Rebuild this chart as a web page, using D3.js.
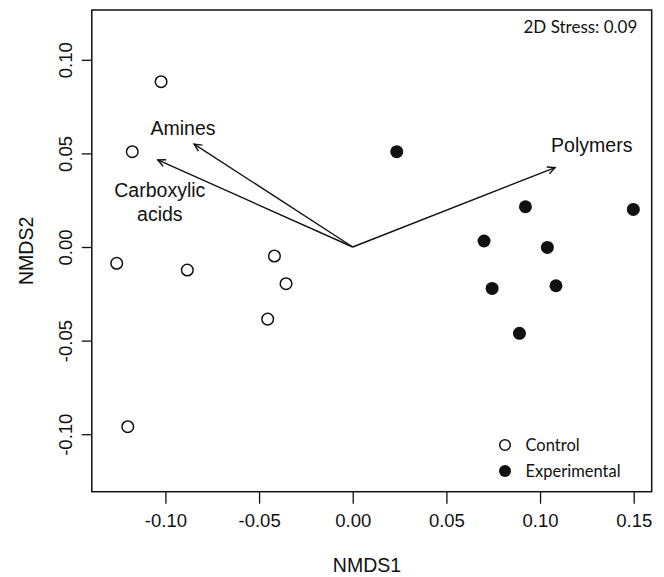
<!DOCTYPE html>
<html>
<head>
<meta charset="utf-8">
<script src="https://cdn.jsdelivr.net/npm/d3@7"></script>
<style>
  body { margin: 0; background: #fff; }
  svg { display: block; }
</style>
</head>
<body>
<div id="chart"></div>
<script>
// NMDS scores
var controlX = [-0.1023, -0.1177, -0.1260, -0.0883, -0.0418, -0.0356, -0.0454, -0.1201];
var controlY = [0.0883, 0.0509, -0.0087, -0.0123, -0.0048, -0.0196, -0.0385, -0.0960];

var expX = [0.0235, 0.0922, 0.1498, 0.0701, 0.1039, 0.0744, 0.1085, 0.0890];
var expY = [0.0509, 0.0215, 0.0201, 0.0032, -0.0002, -0.0221, -0.0207, -0.0461];

// fitted vectors
var vecNames = ["Polymers", "Amines", "Carboxylic acids"];
var vecX = [0.1080, -0.0847, -0.1041];
var vecY = [0.0424, 0.0550, 0.0465];
// where the vector names sit (data units)
var labelX = [0.1276, -0.0906, -0.1030];
var labelY = [0.0506, 0.0598, 0.0267];

var xTicks = [-0.10, -0.05, 0.00, 0.05, 0.10, 0.15];
var yTicks = [-0.10, -0.05, 0.00, 0.05, 0.10];

var stressText = "2D Stress: 0.09";
var legendNames = ["Control", "Experimental"];

var width = 664, height = 577;
var plotL = 91.8, plotR = 651.7, plotT = 10, plotB = 491.7;

var x = d3.scaleLinear().domain([-0.1393, 0.1596]).range([plotL, plotR]);
var y = d3.scaleLinear().domain([-0.1307, 0.1266]).range([plotB, plotT]);

// R style labels: plain hyphen for minus
var fmt = function(d) { return d3.format(".2f")(d).replace("\u2212", "-"); };

var svg = d3.select("#chart").append("svg")
    .attr("width", width)
    .attr("height", height);

var defs = svg.append("defs");
defs.append("marker")
    .attr("id", "head")
    .attr("markerUnits", "userSpaceOnUse")
    .attr("viewBox", "-10 -6 12 12")
    .attr("refX", 0).attr("refY", 0)
    .attr("markerWidth", 12).attr("markerHeight", 12)
    .attr("orient", "auto")
    .append("path")
    .attr("d", "M-7.5,-3.6 L0,0 L-7.5,3.6")
    .attr("fill", "none")
    .attr("stroke", "#111")
    .attr("stroke-width", 1.4);

var axisFont = "'Liberation Sans', Arial, sans-serif";
var noteFont = "Lato, 'Open Sans', sans-serif";

// x axis
var gx = svg.append("g")
    .attr("transform", "translate(0," + plotB + ")")
    .call(d3.axisBottom(x).tickValues(xTicks).tickSize(12).tickPadding(10.5)
        .tickFormat(fmt));
gx.select(".domain").remove();
gx.selectAll(".tick line").attr("stroke", "#111").attr("stroke-width", 1.3);
gx.selectAll(".tick text")
    .attr("fill", "#111")
    .style("font-family", axisFont)
    .style("font-size", "18.5px");

// y axis, labels turned like base R
var gy = svg.append("g")
    .attr("transform", "translate(" + plotL + ",0)")
    .call(d3.axisLeft(y).tickValues(yTicks).tickSize(10)
        .tickFormat(fmt));
gy.select(".domain").remove();
gy.selectAll(".tick line").attr("stroke", "#111").attr("stroke-width", 1.3);
gy.selectAll(".tick text")
    .attr("x", null).attr("dy", null)
    .attr("text-anchor", "middle")
    .attr("transform", "translate(-19.8,0) rotate(-90)")
    .attr("fill", "#111")
    .style("font-family", axisFont)
    .style("font-size", "18.5px");

// frame
svg.append("rect")
    .attr("x", plotL).attr("y", plotT)
    .attr("width", plotR - plotL).attr("height", plotB - plotT)
    .attr("fill", "none")
    .attr("stroke", "#111")
    .attr("stroke-width", 1.5);

// axis titles
svg.append("text")
    .attr("x", 367).attr("y", 571.7)
    .attr("text-anchor", "middle")
    .style("font-family", axisFont).style("font-size", "19.5px")
    .attr("fill", "#111")
    .text("NMDS1");

svg.append("text")
    .attr("transform", "translate(33," + ((plotT + plotB) / 2) + ") rotate(-90)")
    .attr("text-anchor", "middle")
    .style("font-family", axisFont).style("font-size", "19.5px")
    .attr("fill", "#111")
    .text("NMDS2");

// vectors
var vecs = svg.append("g");
vecNames.forEach(function(name, i) {
    vecs.append("line")
        .attr("x1", x(0)).attr("y1", y(0))
        .attr("x2", x(vecX[i])).attr("y2", y(vecY[i]))
        .attr("stroke", "#111")
        .attr("stroke-width", 1.4)
        .attr("marker-end", "url(#head)");

    var words = name === "Carboxylic acids" ? ["Carboxylic", "acids"] : [name];
    var t = vecs.append("text")
        .attr("text-anchor", "middle")
        .style("font-family", axisFont).style("font-size", "19.5px")
        .attr("fill", "#111");
    words.forEach(function(w, j) {
        t.append("tspan")
            .attr("x", x(labelX[i]))
            .attr("y", y(labelY[i]) + j * 23.5)
            .text(w);
    });
});

// points
var pts = svg.append("g");
pts.selectAll("circle.control")
    .data(controlX)
    .enter().append("circle")
    .attr("class", "control")
    .attr("cx", function(d) { return x(d); })
    .attr("cy", function(d, i) { return y(controlY[i]); })
    .attr("r", 5.8)
    .attr("fill", "#fff")
    .attr("stroke", "#111")
    .attr("stroke-width", 1.5);

pts.selectAll("circle.exp")
    .data(expX)
    .enter().append("circle")
    .attr("class", "exp")
    .attr("cx", function(d) { return x(d); })
    .attr("cy", function(d, i) { return y(expY[i]); })
    .attr("r", 6.5)
    .attr("fill", "#111");

// stress note
svg.append("text")
    .attr("x", 637.3).attr("y", 33.3)
    .attr("text-anchor", "end")
    .style("font-family", noteFont).style("font-size", "17px")
    .attr("fill", "#111")
    .text(stressText);

// legend
var leg = svg.append("g");
legendNames.forEach(function(name, i) {
    var cy = 445 + i * 26;
    leg.append("circle")
        .attr("cx", 505).attr("cy", cy)
        .attr("r", i === 0 ? 5.3 : 6)
        .attr("fill", i === 0 ? "#fff" : "#111")
        .attr("stroke", "#111")
        .attr("stroke-width", i === 0 ? 1.5 : 0);
    leg.append("text")
        .attr("x", 525.5).attr("y", cy + 6)
        .style("font-family", noteFont).style("font-size", "16.5px")
        .attr("fill", "#111")
        .text(name);
});
</script>
</body>
</html>
